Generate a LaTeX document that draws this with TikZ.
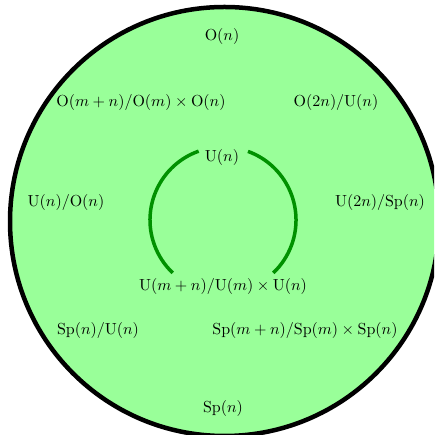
\documentclass[tikz,border=0pt]{standalone}
\definecolor{bgreen}{RGB}{153,255,153}
\definecolor{agreen}{RGB}{0,145,0}
\begin{document}
\begin{tikzpicture}[x=1pt,y=1pt,
  lbl/.style={inner sep=0pt, text=black, scale=1.6},
  outer/.style={draw=black, line width=4.5pt, fill=bgreen},
  inner/.style={draw=agreen, line width=3.5pt}]
\useasboundingbox (0,0) rectangle (434,435);
\clip (0,0) rectangle (434,435);
\coordinate (oc) at (224.5,213.5);
\coordinate (ic) at (223,215);
\draw[outer] (oc) circle[radius=214.5];
% labels
\node[lbl] (On) at (222,398) {$\mathrm{O}(n)$};
\node[lbl] (Omn) at (141,332) {$\mathrm{O}(m+n)/\mathrm{O}(m)\times\mathrm{O}(n)$};
\node[lbl] (O2n) at (336,332) {$\mathrm{O}(2n)/\mathrm{U}(n)$};
\node[lbl] (Un) at (222,277) {$\mathrm{U}(n)$};
\node[lbl] (UO) at (66,232) {$\mathrm{U}(n)/\mathrm{O}(n)$};
\node[lbl] (USp) at (380,232) {$\mathrm{U}(2n)/\mathrm{Sp}(n)$};
\node[lbl] (Umn) at (223,148) {$\mathrm{U}(m+n)/\mathrm{U}(m)\times\mathrm{U}(n)$};
\node[lbl] (SpU) at (98,104) {$\mathrm{Sp}(n)/\mathrm{U}(n)$};
\node[lbl] (Spmn) at (305,104) {$\mathrm{Sp}(m+n)/\mathrm{Sp}(m)\times\mathrm{Sp}(n)$};
\node[lbl] (Spn) at (223,26) {$\mathrm{Sp}(n)$};
% inner arcs
\draw[inner] ([shift={(109.5:73)}]ic) arc[start angle=109.5, end angle=226.5, radius=73];
\draw[inner] ([shift={(70:73)}]ic) arc[start angle=70, end angle=-46.5, radius=73];
\end{tikzpicture}
\end{document}
